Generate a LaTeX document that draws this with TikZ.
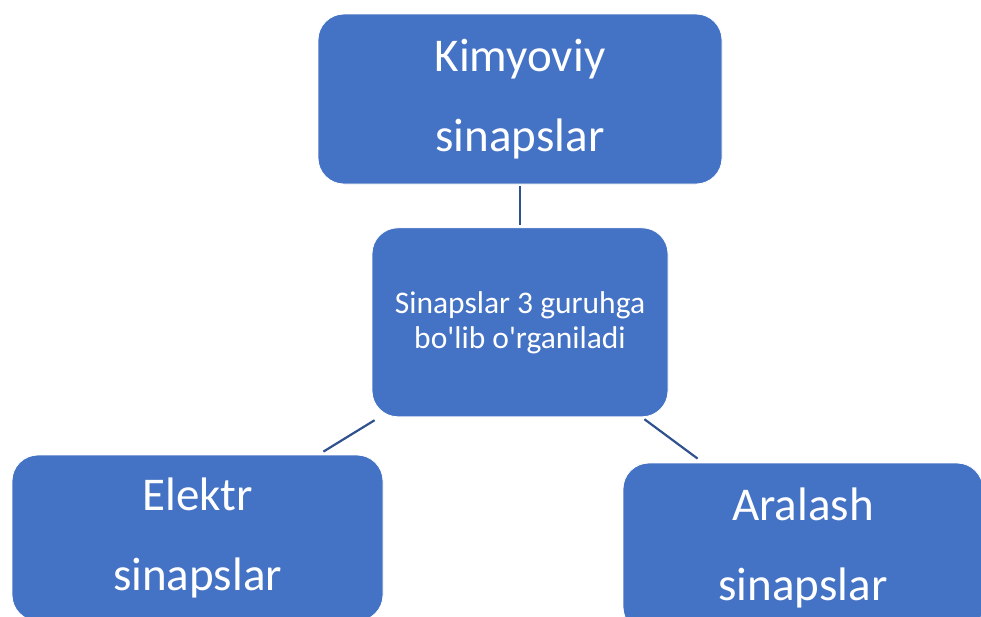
\documentclass[tikz,border=0pt]{standalone}
\usepackage{fontspec}
\setmainfont{Carlito}
\usepackage{tikz}
\usetikzlibrary{positioning,calc}
\definecolor{smblue}{RGB}{68,114,196}
\definecolor{smline}{RGB}{47,82,143}
\tikzset{
  box/.style={draw=white,line width=0.8pt,fill=smblue,rounded corners=26pt,
              text=white,align=center,inner sep=0pt,
              font=\fontsize{47}{80}\selectfont},
  boxsmall/.style={box,font=\fontsize{31.5}{35}\selectfont},
  link/.style={draw=smline,line width=2.2pt},
}
\begin{document}
\begin{tikzpicture}[x=1pt,y=-1pt]
  \useasboundingbox (0,0) rectangle (981,616);
  \clip (0,0) rectangle (981,616);
  % top
  \node[box,minimum width=404pt,minimum height=170pt](kim) at (520,99){Kimyoviy\\sinapslar};
  % centre
  \node[boxsmall,below=43pt of kim,minimum width=296pt,minimum height=189pt](mid){Sinapslar 3 guruhga\\bo\textquotesingle lib o\textquotesingle rganiladi};
  % bottom row
  \node[box,minimum width=371pt,minimum height=166pt](elek) at (197.5,538){Elektr\\sinapslar};
  \node[box,minimum width=360pt,minimum height=170pt](aral) at (803,548){Aralash\\sinapslar};

  % Lines
  \draw[link,shorten <=2pt,shorten >=2pt](kim.south)--(mid.north);
  \draw[link]([shift={(3pt,-3pt)}]mid.south west)--([shift={(-60pt,3pt)}]elek.north east);
  \draw[link]([shift={(-24pt,-2pt)}]mid.south east)--([shift={(75pt,4pt)}]aral.north west);
\end{tikzpicture}
\end{document}
